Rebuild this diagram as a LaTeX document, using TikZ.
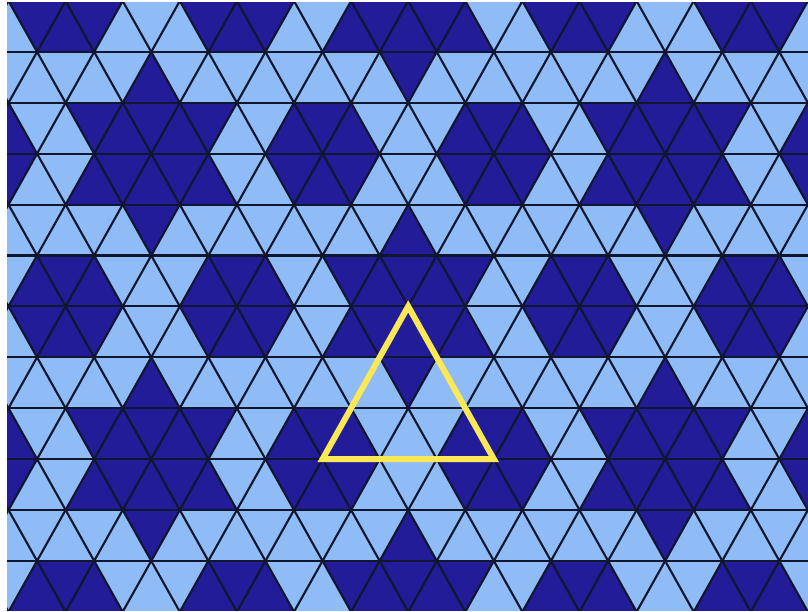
\documentclass[tikz,border=0pt]{standalone}
\usepackage{tikz}
\definecolor{LightTri}{RGB}{143,187,247}
\definecolor{DarkTri} {RGB}{35,28,152}
\definecolor{GridInk} {RGB}{15,22,45}
\definecolor{MarkInk} {RGB}{250,232,85}
\tikzset{
  darktri/.style={fill=DarkTri},
  gridline/.style={draw=GridInk,line width=0.6pt},
  markline/.style={draw=MarkInk,line width=1.7pt,line join=miter}
}
\begin{document}
\begin{tikzpicture}
\useasboundingbox (0,0) rectangle (8.08,6.12);
\fill[white] (0,0) rectangle (8.08,6.12);
\begin{scope}[shift={(0.085cm,6.11cm)},x={(0.571cm,0)},y={(0,-0.509cm)}]
\clip (-0.026,0.02) rectangle (14.2,11.98);
\fill[LightTri] (-1,-1) rectangle (16,13);
% hexagons of six dark triangles
\foreach \cx/\cr in {1/0,4/0,10/0,13/0,
                     -0.5/3,5.5/3,8.5/3,14.5/3,
                     1/6,4/6,10/6,13/6,
                     -0.5/9,5.5/9,8.5/9,14.5/9,
                     1/12,4/12,10/12,13/12}
  \fill[darktri] (\cx-1,\cr) -- (\cx-0.5,\cr-1) -- (\cx+0.5,\cr-1) -- (\cx+1,\cr)
    -- (\cx+0.5,\cr+1) -- (\cx-0.5,\cr+1) -- cycle;
% six-pointed stars
\foreach \cx/\cr in {-2/0,7/0,16/0,2.5/3,11.5/3,-2/6,7/6,16/6,
                     2.5/9,11.5/9,-2/12,7/12,16/12}
  \fill[darktri] (\cx,\cr-2) -- (\cx+0.5,\cr-1) -- (\cx+1.5,\cr-1) -- (\cx+1,\cr)
    -- (\cx+1.5,\cr+1) -- (\cx+0.5,\cr+1) -- (\cx,\cr+2) -- (\cx-0.5,\cr+1)
    -- (\cx-1.5,\cr+1) -- (\cx-1,\cr) -- (\cx-1.5,\cr-1) -- (\cx-0.5,\cr-1) -- cycle;
% triangular grid
\foreach \r in {0,...,12} \draw[gridline] (-1,\r) -- (16,\r);
\foreach \k in {-7,...,15} \draw[gridline] (\k,0) -- ++(6,12);
\foreach \k in {-1,...,21} \draw[gridline] (\k,0) -- ++(-6,12);
% highlighted triangle
\coordinate (apex) at (7,6);
\coordinate (left) at (5.5,9);
\coordinate (right) at (8.5,9);
\draw[markline] (apex) -- (left) -- (right) -- cycle;
\end{scope}
\end{tikzpicture}
\end{document}
